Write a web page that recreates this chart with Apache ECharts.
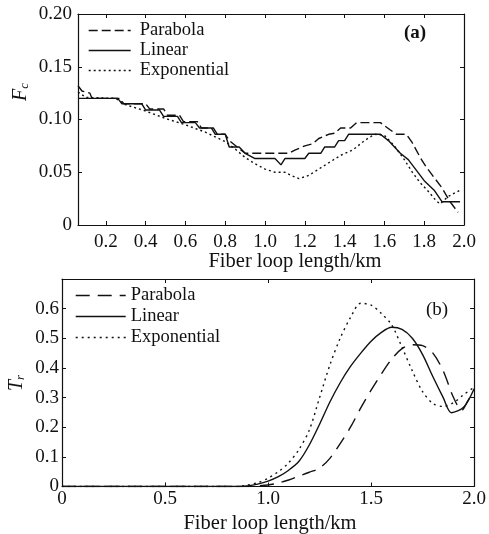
<!DOCTYPE html>
<html>
<head>
<meta charset="utf-8">
<script src="https://cdn.jsdelivr.net/npm/echarts@6/dist/echarts.min.js"></script>
<style>html,body{margin:0;padding:0;background:#fff;}#c{width:489px;height:534px;}</style>
</head>
<body>
<div id="c"></div>
<script>
// ---------- Panel (a): F_c vs fiber loop length ----------
const aParX = [0.06,0.08,0.12,0.13,0.27,0.29,0.40,0.42,0.49,0.51,0.57,0.59,0.66,0.68,0.74,0.76,0.80,0.82,0.86,0.90,1.12,1.15,1.20,1.24,1.27,1.32,1.35,1.38,1.43,1.46,1.58,1.63,1.66,1.71,1.74,1.78,1.81,1.85,1.89,1.93,1.97];
const aParY = [0.132,0.127,0.125,0.120,0.120,0.115,0.115,0.110,0.110,0.104,0.104,0.098,0.098,0.092,0.092,0.086,0.086,0.080,0.074,0.068,0.068,0.071,0.075,0.077,0.082,0.086,0.087,0.092,0.092,0.097,0.097,0.090,0.086,0.086,0.078,0.064,0.055,0.045,0.035,0.022,0.012];

const aLinX = [0.06,0.26,0.28,0.38,0.40,0.47,0.49,0.56,0.58,0.65,0.67,0.73,0.75,0.80,0.82,0.87,0.90,0.95,1.05,1.08,1.10,1.20,1.22,1.28,1.30,1.35,1.37,1.40,1.42,1.58,1.62,1.68,1.72,1.76,1.80,1.85,1.89,1.98];
const aLinY = [0.120,0.120,0.115,0.115,0.109,0.109,0.103,0.103,0.097,0.097,0.092,0.092,0.086,0.086,0.074,0.074,0.068,0.063,0.063,0.057,0.063,0.063,0.068,0.068,0.074,0.074,0.080,0.080,0.086,0.086,0.080,0.068,0.062,0.052,0.042,0.033,0.022,0.022];

const aExpX = [0.06,0.10,0.25,0.30,0.40,0.50,0.60,0.70,0.80,0.85,0.90,0.95,1.00,1.05,1.10,1.13,1.17,1.22,1.27,1.32,1.38,1.44,1.50,1.55,1.60,1.65,1.70,1.74,1.78,1.82,1.86,1.88,1.92,1.98];
const aExpY = [0.126,0.121,0.120,0.114,0.108,0.101,0.095,0.088,0.079,0.072,0.064,0.058,0.053,0.050,0.050,0.047,0.044,0.047,0.053,0.059,0.066,0.071,0.080,0.086,0.085,0.075,0.062,0.050,0.040,0.032,0.023,0.020,0.027,0.033];

const aXTicks = [0.2,0.4,0.6,0.8,1.0,1.2,1.4,1.6,1.8,2.0];
const aYTicks = [0,0.05,0.10,0.15,0.20];

// ---------- Panel (b): T_r vs fiber loop length ----------
const bParX = [0,0.85,0.90,0.95,1.00,1.05,1.10,1.15,1.20,1.25,1.30,1.35,1.40,1.45,1.50,1.55,1.60,1.65,1.70,1.75,1.80,1.85,1.90,1.94,1.97,2.00];
const bParY = [0,0,0,0.002,0.005,0.012,0.022,0.035,0.048,0.062,0.095,0.145,0.200,0.265,0.325,0.380,0.430,0.465,0.478,0.475,0.450,0.390,0.300,0.257,0.290,0.325];

const bLinX = [0,0.85,0.90,0.95,1.00,1.05,1.10,1.15,1.20,1.25,1.30,1.35,1.40,1.45,1.50,1.55,1.60,1.65,1.70,1.75,1.80,1.85,1.89,1.95,2.00];
const bLinY = [0,0,0.002,0.008,0.018,0.033,0.055,0.085,0.140,0.210,0.285,0.350,0.405,0.450,0.490,0.520,0.537,0.530,0.500,0.445,0.370,0.300,0.249,0.268,0.330];

const bExpX = [0,0.85,0.90,0.95,1.00,1.05,1.10,1.15,1.20,1.25,1.30,1.35,1.40,1.45,1.50,1.55,1.60,1.65,1.70,1.75,1.80,1.85,1.90,1.95,2.00];
const bExpY = [0,0,0.005,0.013,0.028,0.050,0.080,0.125,0.190,0.300,0.410,0.500,0.570,0.618,0.612,0.584,0.545,0.470,0.390,0.320,0.280,0.270,0.283,0.310,0.335];

const bXTicks = [0,0.5,1.0,1.5,2.0];
const bYTicks = [0,0.1,0.2,0.3,0.4,0.5,0.6];

const names = ['Parabola','Linear','Exponential'];
const zip = (xs, ys) => xs.map((x,i)=>[x, ys[i]]);

const FONT = '"Liberation Serif", "Times New Roman", serif';
const INK = '#111';
const LW = 1.4;

function axisBase(extra){
  return Object.assign({
    type:'value',
    axisLine:{show:true, onZero:false, lineStyle:{color:INK, width:1.2}},
    axisTick:{show:true, inside:true, length:4, lineStyle:{color:INK, width:1}},
    splitLine:{show:false}
  }, extra);
}
function lbl(ticks, margin, fmt){
  return {color:INK, fontFamily:FONT, fontSize:19, margin:margin, customValues:ticks, formatter:fmt};
}
function tick(ticks){
  return {show:true, inside:true, length:4, customValues:ticks, lineStyle:{color:INK}};
}

const chart = echarts.init(document.getElementById('c'), null, {renderer:'canvas'});

const parA = [9,4], parB = [14,8], dotA = [2,3], dotB = [2,4];
const hidden = {color:'rgba(0,0,0,0)', borderColor:'rgba(0,0,0,0)', borderWidth:0};

const option = {
  animation:false,
  backgroundColor:'#fff',
  textStyle:{fontFamily:FONT},
  grid:[
    {left:78, top:14, width:386, height:211},
    {left:62, top:279, width:415, height:207.5}
  ],
  xAxis:[
    axisBase({gridIndex:0, min:0.06, max:2.0, position:'bottom', axisTick:tick(aXTicks), axisLabel:lbl(aXTicks, 8, v=>v.toFixed(1))}),
    axisBase({gridIndex:0, min:0.06, max:2.0, position:'top', axisTick:tick(aXTicks), axisLabel:{show:false}}),
    axisBase({gridIndex:1, min:0, max:2.0, position:'bottom', axisTick:tick(bXTicks), axisLabel:lbl(bXTicks, 3, v=>v===0?'0':v.toFixed(1))}),
    axisBase({gridIndex:1, min:0, max:2.0, position:'top', axisTick:tick(bXTicks), axisLabel:{show:false}})
  ],
  yAxis:[
    axisBase({gridIndex:0, min:0, max:0.2, position:'left', axisTick:tick(aYTicks), axisLabel:lbl(aYTicks, 6, v=>v===0?'0':v.toFixed(2))}),
    axisBase({gridIndex:0, min:0, max:0.2, position:'right', axisTick:tick(aYTicks), axisLabel:{show:false}}),
    axisBase({gridIndex:1, min:0, max:0.7, position:'left', axisTick:tick(bYTicks), axisLabel:lbl(bYTicks, 3, v=>v===0?'0':v.toFixed(1))}),
    axisBase({gridIndex:1, min:0, max:0.7, position:'right', axisTick:tick(bYTicks), axisLabel:{show:false}})
  ],
  legend:[
    {orient:'vertical', left:83, top:16, itemWidth:42, itemHeight:14, itemGap:1,
     textStyle:{color:INK, fontFamily:FONT, fontSize:18.5, padding:[0,0,0,4]},
     itemStyle:hidden,
     data:[
       {name:'Parabola', itemStyle:hidden, lineStyle:{color:INK, width:LW, type:parA}},
       {name:'Linear', itemStyle:hidden, lineStyle:{color:INK, width:LW, type:'solid'}},
       {name:'Exponential', itemStyle:hidden, lineStyle:{color:INK, width:LW, type:dotA}}
     ]},
    {orient:'vertical', left:70, top:281, itemWidth:50, itemHeight:14, itemGap:2,
     textStyle:{color:INK, fontFamily:FONT, fontSize:18.5, padding:[0,0,0,0]},
     itemStyle:hidden,
     data:[
       {name:'Parabola', itemStyle:hidden, lineStyle:{color:INK, width:LW, type:parB}},
       {name:'Linear', itemStyle:hidden, lineStyle:{color:INK, width:LW, type:'solid'}},
       {name:'Exponential', itemStyle:hidden, lineStyle:{color:INK, width:LW, type:dotB}}
     ]}
  ],
  series:[
    {name:names[0], type:'line', xAxisIndex:0, yAxisIndex:0, data:zip(aParX,aParY), showSymbol:false, symbol:'none', lineStyle:{color:INK, width:LW, type:parA}, itemStyle:{color:INK}},
    {name:names[1], type:'line', xAxisIndex:0, yAxisIndex:0, data:zip(aLinX,aLinY), showSymbol:false, symbol:'none', lineStyle:{color:INK, width:LW, type:'solid'}, itemStyle:{color:INK}},
    {name:names[2], type:'line', xAxisIndex:0, yAxisIndex:0, data:zip(aExpX,aExpY), showSymbol:false, symbol:'none', lineStyle:{color:INK, width:LW, type:dotA}, itemStyle:{color:INK}},
    {name:names[0], type:'line', xAxisIndex:2, yAxisIndex:2, data:zip(bParX,bParY), smooth:0.3, showSymbol:false, symbol:'none', lineStyle:{color:INK, width:LW, type:parB}, itemStyle:{color:INK}},
    {name:names[1], type:'line', xAxisIndex:2, yAxisIndex:2, data:zip(bLinX,bLinY), smooth:0.3, showSymbol:false, symbol:'none', lineStyle:{color:INK, width:LW, type:'solid'}, itemStyle:{color:INK}},
    {name:names[2], type:'line', xAxisIndex:2, yAxisIndex:2, data:zip(bExpX,bExpY), smooth:0.3, showSymbol:false, symbol:'none', lineStyle:{color:INK, width:LW, type:dotB}, itemStyle:{color:INK}}
  ],
  graphic:[
    {type:'text', style:{text:'Fiber loop length/km', x:295, y:262, align:'center', verticalAlign:'middle', fill:INK, font:'20.5px "Liberation Serif"'}},
    {type:'text', style:{text:'Fiber loop length/km', x:270, y:524, align:'center', verticalAlign:'middle', fill:INK, font:'20.5px "Liberation Serif"'}},
    {type:'text', style:{text:'(a)', x:415, y:33, align:'center', verticalAlign:'middle', fill:INK, font:'bold 19px "Liberation Serif"'}},
    {type:'text', style:{text:'(b)', x:437, y:310, align:'center', verticalAlign:'middle', fill:INK, font:'19px "Liberation Serif"'}},
    {type:'text', x:21, y:92, rotation:Math.PI/2, style:{text:'{i|F}{s|c}', align:'center', verticalAlign:'middle', fill:INK,
      rich:{i:{fontFamily:FONT, fontStyle:'italic', fontSize:20, fill:INK}, s:{fontFamily:FONT, fontStyle:'italic', fontSize:13, fill:INK, padding:[8,0,0,0]}}}},
    {type:'text', x:17, y:383, rotation:Math.PI/2, style:{text:'{i|T}{s|r}', align:'center', verticalAlign:'middle', fill:INK,
      rich:{i:{fontFamily:FONT, fontStyle:'italic', fontSize:20, fill:INK}, s:{fontFamily:FONT, fontStyle:'italic', fontSize:13, fill:INK, padding:[8,0,0,0]}}}}
  ]
};
chart.setOption(option);
</script>
</body>
</html>
